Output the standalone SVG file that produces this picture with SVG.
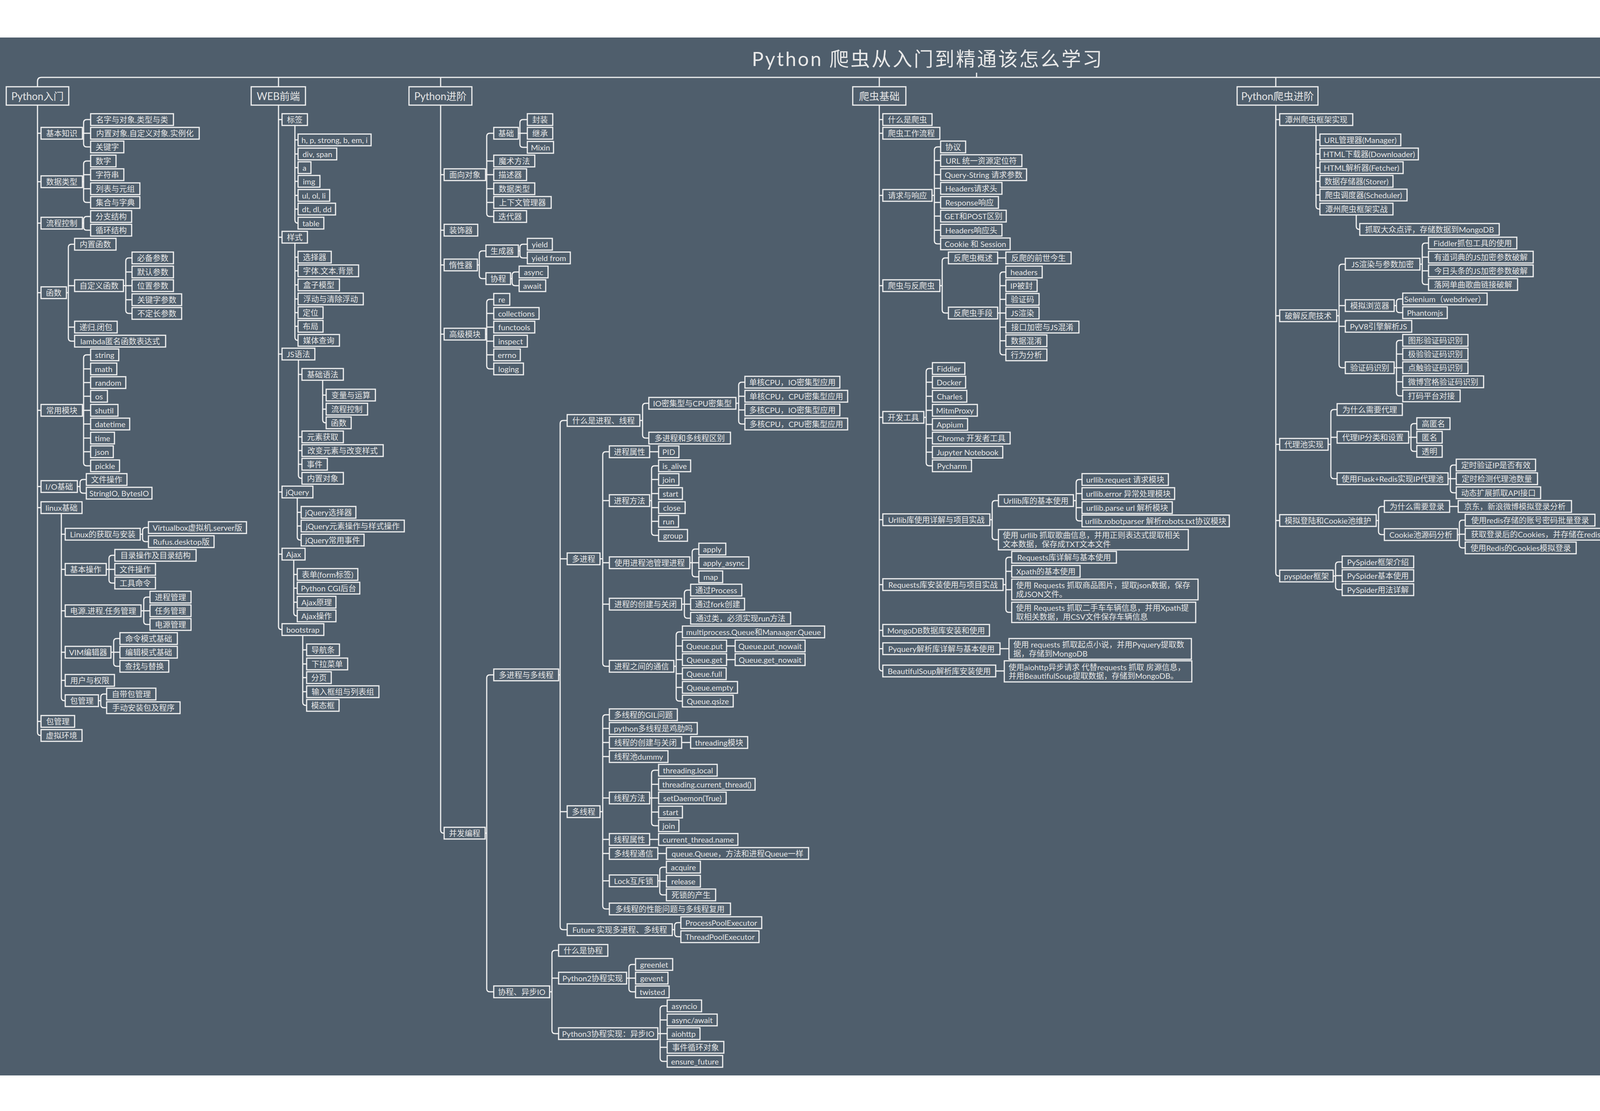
<svg xmlns="http://www.w3.org/2000/svg" width="5000" height="2843" viewBox="0 0 5000 2843">
<style>
.n rect{fill:#4f5e6c;stroke:#f0f0f0;stroke-width:3}
.n text{font-family:Lato,"Noto Sans CJK SC",sans-serif;font-size:20px;fill:#e6e6e6;text-anchor:middle;dominant-baseline:central}
.n text.l{text-anchor:start}
.h text{font-size:26px}
#links path{fill:none;stroke:#f0f0f0;stroke-width:3}
.ttl{font-family:Lato,"Noto Sans CJK SC",sans-serif;font-size:50px;fill:#e8e8e8;text-anchor:middle;dominant-baseline:central;letter-spacing:4px}
</style>
<rect x="0" y="0" width="5000" height="2843" fill="#ffffff"/>
<rect x="0" y="96" width="5000" height="2656" fill="#4f5e6c"/>
<text id="title" class="ttl" x="2375" y="150">Python 爬虫从入门到精通该怎么学习</text>
<g id="links">
<path d="M96 208Q96 198 106 198H4241Q4251 198 4251 208M2500 186V198"/>
<path d="M96 208V1874Q96 1882 104 1882H105M96 341H105M96 465H105M96 571H105M96 749H105M96 1050H105M96 1245H105M96 1299H105M96 1846H105"/>
<path d="M211 341H214M232 306H222Q214 306 214 314V368Q214 376 222 376H232M214 341H232"/>
<path d="M211 465H214M232 412H222Q214 412 214 420V510Q214 518 222 518H232M214 447H232M214 483H232"/>
<path d="M211 571H214M232 554H222Q214 554 214 562V581Q214 589 222 589H232"/>
<path d="M170 749H175M191 625H183Q175 625 175 633V865Q175 873 183 873H191M175 731H191M175 837H191"/>
<path d="M316 731H322M338 660H330Q322 660 322 668V794Q322 802 330 802H338M322 696H338M322 731H338M322 767H338"/>
<path d="M211 1050H214M232 908H222Q214 908 214 916V1184Q214 1192 222 1192H232M214 944H232M214 979H232M214 1014H232M214 1050H232M214 1085H232M214 1121H232M214 1156H232"/>
<path d="M198 1245H205M221 1227H213Q205 1227 205 1235V1254Q205 1262 213 1262H221"/>
<path d="M157 1314V1785Q157 1793 165 1793H167M157 1367H167M157 1457H167M157 1563H167M157 1669H167M157 1741H167"/>
<path d="M359 1367H365M380 1350H373Q365 1350 365 1358V1378Q365 1386 373 1386H380"/>
<path d="M272 1457H279M294 1421H287Q279 1421 279 1429V1484Q279 1492 287 1492H294M279 1457H294"/>
<path d="M361 1563H368M384 1528H376Q368 1528 368 1536V1590Q368 1598 376 1598H384M368 1563H384"/>
<path d="M284 1669H291M307 1634H299Q291 1634 291 1642V1697Q291 1705 299 1705H307M291 1669H307"/>
<path d="M252 1793H258M273 1776H266Q258 1776 258 1784V1803Q258 1811 266 1811H273"/>
<path d="M713 198V1603Q713 1611 721 1611H722M713 306H722M713 607H722M713 906H722M713 1259H722M713 1418H722"/>
<path d="M755 321V563Q755 571 763 571M755 358H763M755 394H763M755 429H763M755 464H763M755 500H763M755 535H763"/>
<path d="M755 622V863Q755 871 763 871M755 658H763M755 693H763M755 729H763M755 765H763M755 800H763M755 835H763"/>
<path d="M764 921V1216Q764 1224 772 1224H773M764 958H773M764 1118H773M764 1153H773M764 1188H773"/>
<path d="M826 973V1074Q826 1082 834 1082H835M826 1011H835M826 1047H835"/>
<path d="M761 1274V1374Q761 1382 769 1382H771M761 1311H771M761 1346H771"/>
<path d="M752 1433V1568Q752 1576 760 1576H761M752 1470H761M752 1505H761M752 1541H761"/>
<path d="M775 1626V1797Q775 1805 783 1805H785M775 1663H785M775 1699H785M775 1734H785M775 1770H785"/>
<path d="M1128 198V2124Q1128 2132 1136 2132H1137M1128 447H1137M1128 589H1137M1128 678H1137M1128 855H1137"/>
<path d="M1243 447H1246M1264 341H1254Q1246 341 1246 349V546Q1246 554 1254 554H1264M1246 412H1264M1246 447H1264M1246 483H1264M1246 518H1264"/>
<path d="M1327 341H1331M1350 306H1339Q1331 306 1331 314V369Q1331 377 1339 377H1350M1331 341H1350"/>
<path d="M1222 678H1227M1244 642H1235Q1227 642 1227 650V705Q1227 713 1235 713H1244"/>
<path d="M1327 642H1331M1350 625H1339Q1331 625 1331 633V652Q1331 660 1339 660H1350"/>
<path d="M1307 713H1311M1329 696H1319Q1311 696 1311 704V723Q1311 731 1319 731H1329"/>
<path d="M1243 855H1246M1264 766H1254Q1246 766 1246 774V936Q1246 944 1254 944H1264M1246 802H1264M1246 837H1264M1246 873H1264M1246 908H1264"/>
<path d="M1242 2132H1246M1264 1727H1254Q1246 1727 1246 1735V2530Q1246 2538 1254 2538H1264"/>
<path d="M1430 1727H1434M1452 1076H1442Q1434 1076 1434 1084V2371Q1434 2379 1442 2379H1452M1434 1430H1452M1434 2077H1452"/>
<path d="M1638 1076H1645M1661 1032H1653Q1645 1032 1645 1040V1113Q1645 1121 1653 1121H1661"/>
<path d="M1884 1032H1891M1907 978H1899Q1891 978 1891 986V1077Q1891 1085 1899 1085H1907M1891 1014H1907M1891 1049H1907"/>
<path d="M1536 1430H1543M1560 1156H1551Q1543 1156 1543 1164V1697Q1543 1705 1551 1705H1560M1543 1281H1560M1543 1440H1560M1543 1546H1560"/>
<path d="M1663 1156H1686"/>
<path d="M1663 1281H1668M1686 1192H1676Q1668 1192 1668 1200V1362Q1668 1370 1676 1370H1686M1668 1227H1686M1668 1263H1686M1668 1299H1686M1668 1334H1686"/>
<path d="M1766 1440H1772M1789 1405H1780Q1772 1405 1772 1413V1468Q1772 1476 1780 1476H1789M1772 1440H1789"/>
<path d="M1745 1546H1752M1768 1510H1760Q1752 1510 1752 1518V1574Q1752 1582 1760 1582H1768M1752 1546H1768"/>
<path d="M1725 1705H1731M1747 1617H1739Q1731 1617 1731 1625V1786Q1731 1794 1739 1794H1747M1731 1653H1747M1731 1688H1747M1731 1724H1747M1731 1759H1747"/>
<path d="M1860 1653H1882M1860 1688H1882"/>
<path d="M1536 2077H1543M1560 1829H1551Q1543 1829 1543 1837V2318Q1543 2326 1551 2326H1560M1543 1864H1560M1543 1900H1560M1543 1936H1560M1543 2042H1560M1543 2148H1560M1543 2184H1560M1543 2254H1560"/>
<path d="M1745 1900H1768"/>
<path d="M1663 2042H1668M1686 1971H1676Q1668 1971 1668 1979V2105Q1668 2113 1676 2113H1686M1668 2007H1686M1668 2042H1686M1668 2078H1686"/>
<path d="M1663 2148H1686M1684 2184H1706"/>
<path d="M1684 2254H1689M1706 2219H1697Q1689 2219 1689 2227V2282Q1689 2290 1697 2290H1706M1689 2255H1706"/>
<path d="M1721 2379H1727M1743 2361H1735Q1727 2361 1727 2369V2389Q1727 2397 1735 2397H1743"/>
<path d="M1407 2538H1413M1430 2432H1421Q1413 2432 1413 2440V2637Q1413 2645 1421 2645H1430M1413 2503H1430"/>
<path d="M1604 2503H1610M1627 2468H1618Q1610 2468 1610 2476V2530Q1610 2538 1618 2538H1627M1610 2503H1627"/>
<path d="M1684 2645H1690M1708 2574H1698Q1690 2574 1690 2582V2708Q1690 2716 1698 2716H1708M1690 2610H1708M1690 2645H1708M1690 2680H1708"/>
<path d="M2251 198V1709Q2251 1717 2259 1717H2260M2251 306H2260M2251 341H2260M2251 500H2260M2251 731H2260M2251 1068H2260M2251 1330H2260M2251 1496H2260M2251 1613H2260M2251 1660H2260"/>
<path d="M2386 500H2392M2408 376H2400Q2392 376 2392 384V616Q2392 624 2400 624H2408M2392 411H2408M2392 447H2408M2392 482H2408M2392 518H2408M2392 553H2408M2392 589H2408"/>
<path d="M2406 731H2412M2428 660H2420Q2412 660 2412 668V793Q2412 801 2420 801H2428"/>
<path d="M2554 660H2575"/>
<path d="M2554 801H2560M2575 696H2568Q2560 696 2560 704V900Q2560 908 2568 908H2575M2560 731H2575M2560 766H2575M2560 801H2575M2560 837H2575M2560 872H2575"/>
<path d="M2365 1068H2371M2387 943H2379Q2371 943 2371 951V1184Q2371 1192 2379 1192H2387M2371 978H2387M2371 1014H2387M2371 1050H2387M2371 1086H2387M2371 1121H2387M2371 1157H2387"/>
<path d="M2534 1330H2540M2556 1281H2548Q2540 1281 2540 1289V1373Q2540 1381 2548 1381H2556"/>
<path d="M2748 1281H2755M2770 1227H2763Q2755 1227 2755 1235V1325Q2755 1333 2763 1333H2770M2755 1263H2770M2755 1299H2770"/>
<path d="M2568 1496H2575M2590 1426H2583Q2575 1426 2575 1434V1559Q2575 1567 2583 1567H2590M2575 1462H2590M2575 1509H2590"/>
<path d="M2560 1660H2583M2549 1717H2571"/>
<path d="M3266 198V1466Q3266 1474 3274 1474H3276M3266 306H3276M3266 808H3276M3266 1137H3276M3266 1332H3276"/>
<path d="M3369 321V527Q3369 535 3377 535H3379M3369 358H3379M3369 394H3379M3369 429H3379M3369 464H3379M3369 499H3379"/>
<path d="M3472 550V579Q3472 587 3480 587H3481"/>
<path d="M3422 808H3428M3444 676H3436Q3428 676 3428 684V933Q3428 941 3436 941H3444M3428 782H3444M3428 835H3444"/>
<path d="M3635 676H3641M3657 622H3649Q3641 622 3641 630V720Q3641 728 3649 728H3657M3641 658H3657M3641 693H3657"/>
<path d="M3569 782H3575M3591 765H3583Q3575 765 3575 773V792Q3575 800 3583 800H3591"/>
<path d="M3569 941H3575M3591 871H3583Q3575 871 3575 879V1005Q3575 1013 3583 1013H3591M3575 906H3591M3575 941H3591M3575 977H3591"/>
<path d="M3400 1137H3407M3423 1048H3415Q3407 1048 3407 1056V1217Q3407 1225 3415 1225H3423M3407 1119H3423"/>
<path d="M3606 1119H3612M3627 1084H3620Q3612 1084 3612 1092V1147Q3612 1155 3620 1155H3627M3612 1119H3627"/>
<path d="M3707 1225H3713M3728 1190H3721Q3713 1190 3713 1198V1253Q3713 1261 3721 1261H3728M3713 1225H3728"/>
<path d="M3523 1332H3529M3544 1296H3537Q3529 1296 3529 1304V1360Q3529 1368 3537 1368H3544"/>
<path d="M3711 1296H3733"/>
<path d="M3731 1368H3736M3751 1331H3744Q3736 1331 3736 1339V1394Q3736 1402 3744 1402H3751M3736 1367H3751"/>
<path d="M3413 1474H3419M3436 1438H3427Q3419 1438 3419 1446V1501Q3419 1509 3427 1509H3436M3419 1473H3436"/>
<path d="M4251 208V1181Q4251 1189 4259 1189H4260M4251 385H4260M4251 729H4260M4251 1012H4260"/>
<path d="M4381 385H4386M4403 305H4394Q4386 305 4386 313V456Q4386 464 4394 464H4403M4386 393H4403M4386 428H4403"/>
<path d="M4477 320V349Q4477 357 4485 357H4487"/>
<path d="M4483 479V508Q4483 516 4491 516H4493"/>
<path d="M4384 729H4390M4406 552H4398Q4390 552 4390 560V898Q4390 906 4398 906H4406M4390 587H4406M4390 622H4406M4390 657H4406M4390 693H4406M4390 728H4406M4390 764H4406M4390 800H4406M4390 835H4406M4390 871H4406"/>
<path d="M4427 1012H4433M4449 941H4441Q4433 941 4433 949V1075Q4433 1083 4441 1083H4449M4433 977H4449M4433 1012H4449M4433 1047H4449"/>
<path d="M4427 1189H4433M4449 1118H4441Q4433 1118 4433 1126V1252Q4433 1260 4441 1260H4449M4433 1154H4449M4433 1189H4449M4433 1225H4449"/>
</g>
<g id="nodes">
<g id="n0" class="n h"><rect x="16" y="222" width="160" height="47"/><text x="96" y="246">Python入门</text></g>
<g id="n1" class="n"><rect x="105" y="326" width="106" height="30"/><text x="158" y="341">基本知识</text></g>
<g id="n2" class="n"><rect x="232" y="291" width="212" height="30"/><text x="338" y="306">名字与对象.类型与类</text></g>
<g id="n3" class="n"><rect x="232" y="326" width="278" height="30"/><text x="371" y="341">内置对象.自定义对象.实例化</text></g>
<g id="n4" class="n"><rect x="232" y="361" width="85" height="30"/><text x="274.5" y="376">关键字</text></g>
<g id="n5" class="n"><rect x="105" y="450" width="106" height="30"/><text x="158" y="465">数据类型</text></g>
<g id="n6" class="n"><rect x="232" y="397" width="65" height="30"/><text x="264.5" y="412">数字</text></g>
<g id="n7" class="n"><rect x="232" y="432" width="85" height="30"/><text x="274.5" y="447">字符串</text></g>
<g id="n8" class="n"><rect x="232" y="468" width="126" height="30"/><text x="295" y="483">列表与元组</text></g>
<g id="n9" class="n"><rect x="232" y="503" width="126" height="30"/><text x="295" y="518">集合与字典</text></g>
<g id="n10" class="n"><rect x="105" y="556" width="106" height="30"/><text x="158" y="571">流程控制</text></g>
<g id="n11" class="n"><rect x="232" y="539" width="105" height="30"/><text x="284.5" y="554">分支结构</text></g>
<g id="n12" class="n"><rect x="232" y="574" width="105" height="30"/><text x="284.5" y="589">循环结构</text></g>
<g id="n13" class="n"><rect x="105" y="734" width="65" height="30"/><text x="137.5" y="749">函数</text></g>
<g id="n14" class="n"><rect x="191" y="610" width="106" height="30"/><text x="244" y="625">内置函数</text></g>
<g id="n15" class="n"><rect x="191" y="716" width="125" height="30"/><text x="253.5" y="731">自定义函数</text></g>
<g id="n16" class="n"><rect x="338" y="645" width="106" height="30"/><text x="391" y="660">必备参数</text></g>
<g id="n17" class="n"><rect x="338" y="681" width="106" height="30"/><text x="391" y="696">默认参数</text></g>
<g id="n18" class="n"><rect x="338" y="716" width="106" height="30"/><text x="391" y="731">位置参数</text></g>
<g id="n19" class="n"><rect x="338" y="752" width="127" height="30"/><text x="401.5" y="767">关键字参数</text></g>
<g id="n20" class="n"><rect x="338" y="787" width="127" height="30"/><text x="401.5" y="802">不定长参数</text></g>
<g id="n21" class="n"><rect x="191" y="822" width="109" height="30"/><text x="245.5" y="837">递归.闭包</text></g>
<g id="n22" class="n"><rect x="191" y="858" width="233" height="30"/><text x="307.5" y="873">lambda匿名函数表达式</text></g>
<g id="n23" class="n"><rect x="105" y="1035" width="106" height="30"/><text x="158" y="1050">常用模块</text></g>
<g id="n24" class="n"><rect x="232" y="893" width="72" height="30"/><text x="268" y="908">string</text></g>
<g id="n25" class="n"><rect x="232" y="929" width="67" height="30"/><text x="265.5" y="944">math</text></g>
<g id="n26" class="n"><rect x="232" y="964" width="90" height="30"/><text x="277" y="979">random</text></g>
<g id="n27" class="n"><rect x="232" y="999" width="43" height="30"/><text x="253.5" y="1014">os</text></g>
<g id="n28" class="n"><rect x="232" y="1035" width="70" height="30"/><text x="267" y="1050">shutil</text></g>
<g id="n29" class="n"><rect x="232" y="1070" width="100" height="30"/><text x="282" y="1085">datetime</text></g>
<g id="n30" class="n"><rect x="232" y="1106" width="61" height="30"/><text x="262.5" y="1121">time</text></g>
<g id="n31" class="n"><rect x="232" y="1141" width="58" height="30"/><text x="261" y="1156">json</text></g>
<g id="n32" class="n"><rect x="232" y="1177" width="74" height="30"/><text x="269" y="1192">pickle</text></g>
<g id="n33" class="n"><rect x="105" y="1230" width="93" height="30"/><text x="151.5" y="1245">I/O基础</text></g>
<g id="n34" class="n"><rect x="221" y="1212" width="104" height="30"/><text x="273" y="1227">文件操作</text></g>
<g id="n35" class="n"><rect x="221" y="1247" width="168" height="30"/><text x="305" y="1262">StringIO, BytesIO</text></g>
<g id="n36" class="n"><rect x="105" y="1284" width="105" height="30"/><text x="157.5" y="1299">linux基础</text></g>
<g id="n37" class="n"><rect x="167" y="1352" width="192" height="30"/><text x="263" y="1367">Linux的获取与安装</text></g>
<g id="n38" class="n"><rect x="380" y="1335" width="251" height="30"/><text x="505.5" y="1350">Virtualbox虚拟机.server版</text></g>
<g id="n39" class="n"><rect x="380" y="1371" width="168" height="30"/><text x="464" y="1386">Rufus.desktop版</text></g>
<g id="n40" class="n"><rect x="167" y="1442" width="105" height="30"/><text x="219.5" y="1457">基本操作</text></g>
<g id="n41" class="n"><rect x="294" y="1406" width="208" height="30"/><text x="398" y="1421">目录操作及目录结构</text></g>
<g id="n42" class="n"><rect x="294" y="1442" width="104" height="30"/><text x="346" y="1457">文件操作</text></g>
<g id="n43" class="n"><rect x="294" y="1477" width="104" height="30"/><text x="346" y="1492">工具命令</text></g>
<g id="n44" class="n"><rect x="167" y="1548" width="194" height="30"/><text x="264" y="1563">电源.进程.任务管理</text></g>
<g id="n45" class="n"><rect x="384" y="1513" width="105" height="30"/><text x="436.5" y="1528">进程管理</text></g>
<g id="n46" class="n"><rect x="384" y="1548" width="105" height="30"/><text x="436.5" y="1563">任务管理</text></g>
<g id="n47" class="n"><rect x="384" y="1583" width="105" height="30"/><text x="436.5" y="1598">电源管理</text></g>
<g id="n48" class="n"><rect x="167" y="1654" width="117" height="30"/><text x="225.5" y="1669">VIM编辑器</text></g>
<g id="n49" class="n"><rect x="307" y="1619" width="147" height="30"/><text x="380.5" y="1634">命令模式基础</text></g>
<g id="n50" class="n"><rect x="307" y="1654" width="147" height="30"/><text x="380.5" y="1669">编辑模式基础</text></g>
<g id="n51" class="n"><rect x="307" y="1690" width="125" height="30"/><text x="369.5" y="1705">查找与替换</text></g>
<g id="n52" class="n"><rect x="167" y="1726" width="126" height="30"/><text x="230" y="1741">用户与权限</text></g>
<g id="n53" class="n"><rect x="167" y="1778" width="85" height="30"/><text x="209.5" y="1793">包管理</text></g>
<g id="n54" class="n"><rect x="273" y="1761" width="126" height="30"/><text x="336" y="1776">自带包管理</text></g>
<g id="n55" class="n"><rect x="273" y="1796" width="188" height="30"/><text x="367" y="1811">手动安装包及程序</text></g>
<g id="n56" class="n"><rect x="105" y="1831" width="86" height="30"/><text x="148" y="1846">包管理</text></g>
<g id="n57" class="n"><rect x="105" y="1867" width="105" height="30"/><text x="157.5" y="1882">虚拟环境</text></g>
<g id="n58" class="n h"><rect x="643" y="222" width="139" height="47"/><text x="712.5" y="246">WEB前端</text></g>
<g id="n59" class="n"><rect x="722" y="291" width="65" height="30"/><text x="754.5" y="306">标签</text></g>
<g id="n60" class="n"><rect x="763" y="343" width="187" height="30"/><text x="856.5" y="358">h, p, strong, b, em, i</text></g>
<g id="n61" class="n"><rect x="763" y="379" width="99" height="30"/><text x="812.5" y="394">div, span</text></g>
<g id="n62" class="n"><rect x="763" y="414" width="33" height="30"/><text x="779.5" y="429">a</text></g>
<g id="n63" class="n"><rect x="763" y="449" width="56" height="30"/><text x="791" y="464">img</text></g>
<g id="n64" class="n"><rect x="763" y="485" width="81" height="30"/><text x="803.5" y="500">ul, ol, li</text></g>
<g id="n65" class="n"><rect x="763" y="520" width="96" height="30"/><text x="811" y="535">dt, dl, dd</text></g>
<g id="n66" class="n"><rect x="763" y="556" width="66" height="30"/><text x="796" y="571">table</text></g>
<g id="n67" class="n"><rect x="722" y="592" width="65" height="30"/><text x="754.5" y="607">样式</text></g>
<g id="n68" class="n"><rect x="763" y="643" width="85" height="30"/><text x="805.5" y="658">选择器</text></g>
<g id="n69" class="n"><rect x="763" y="678" width="155" height="30"/><text x="840.5" y="693">字体.文本.背景</text></g>
<g id="n70" class="n"><rect x="763" y="714" width="106" height="30"/><text x="816" y="729">盒子模型</text></g>
<g id="n71" class="n"><rect x="763" y="750" width="167" height="30"/><text x="846.5" y="765">浮动与清除浮动</text></g>
<g id="n72" class="n"><rect x="763" y="785" width="64" height="30"/><text x="795" y="800">定位</text></g>
<g id="n73" class="n"><rect x="763" y="820" width="64" height="30"/><text x="795" y="835">布局</text></g>
<g id="n74" class="n"><rect x="763" y="856" width="106" height="30"/><text x="816" y="871">媒体查询</text></g>
<g id="n75" class="n"><rect x="722" y="891" width="84" height="30"/><text x="764" y="906">JS语法</text></g>
<g id="n76" class="n"><rect x="773" y="943" width="106" height="30"/><text x="826" y="958">基础语法</text></g>
<g id="n77" class="n"><rect x="835" y="996" width="126" height="30"/><text x="898" y="1011">变量与运算</text></g>
<g id="n78" class="n"><rect x="835" y="1032" width="106" height="30"/><text x="888" y="1047">流程控制</text></g>
<g id="n79" class="n"><rect x="835" y="1067" width="64" height="30"/><text x="867" y="1082">函数</text></g>
<g id="n80" class="n"><rect x="773" y="1103" width="106" height="30"/><text x="826" y="1118">元素获取</text></g>
<g id="n81" class="n"><rect x="773" y="1138" width="208" height="30"/><text x="877" y="1153">改变元素与改变样式</text></g>
<g id="n82" class="n"><rect x="773" y="1173" width="65" height="30"/><text x="805.5" y="1188">事件</text></g>
<g id="n83" class="n"><rect x="773" y="1209" width="106" height="30"/><text x="826" y="1224">内置对象</text></g>
<g id="n84" class="n"><rect x="722" y="1244" width="79" height="30"/><text x="761.5" y="1259">jQuery</text></g>
<g id="n85" class="n"><rect x="771" y="1296" width="140" height="30"/><text x="841" y="1311">jQuery选择器</text></g>
<g id="n86" class="n"><rect x="771" y="1331" width="264" height="30"/><text x="903" y="1346">jQuery元素操作与样式操作</text></g>
<g id="n87" class="n"><rect x="771" y="1367" width="161" height="30"/><text x="851.5" y="1382">jQuery常用事件</text></g>
<g id="n88" class="n"><rect x="722" y="1403" width="59" height="30"/><text x="751.5" y="1418">Ajax</text></g>
<g id="n89" class="n"><rect x="761" y="1455" width="155" height="30"/><text x="838.5" y="1470">表单(form标签)</text></g>
<g id="n90" class="n"><rect x="761" y="1490" width="160" height="30"/><text x="841" y="1505">Python CGI后台</text></g>
<g id="n91" class="n"><rect x="761" y="1526" width="99" height="30"/><text x="810.5" y="1541">Ajax原理</text></g>
<g id="n92" class="n"><rect x="761" y="1561" width="99" height="30"/><text x="810.5" y="1576">Ajax操作</text></g>
<g id="n93" class="n"><rect x="722" y="1596" width="107" height="30"/><text x="775.5" y="1611">bootstrap</text></g>
<g id="n94" class="n"><rect x="785" y="1648" width="84" height="30"/><text x="827" y="1663">导航条</text></g>
<g id="n95" class="n"><rect x="785" y="1684" width="105" height="30"/><text x="837.5" y="1699">下拉菜单</text></g>
<g id="n96" class="n"><rect x="785" y="1719" width="63" height="30"/><text x="816.5" y="1734">分页</text></g>
<g id="n97" class="n"><rect x="785" y="1755" width="185" height="30"/><text x="877.5" y="1770">输入框组与列表组</text></g>
<g id="n98" class="n"><rect x="785" y="1790" width="83" height="30"/><text x="826.5" y="1805">模态框</text></g>
<g id="n99" class="n h"><rect x="1047" y="222" width="161" height="47"/><text x="1127.5" y="246">Python进阶</text></g>
<g id="n100" class="n"><rect x="1137" y="432" width="106" height="30"/><text x="1190" y="447">面向对象</text></g>
<g id="n101" class="n"><rect x="1264" y="326" width="63" height="30"/><text x="1295.5" y="341">基础</text></g>
<g id="n102" class="n"><rect x="1350" y="291" width="65" height="30"/><text x="1382.5" y="306">封装</text></g>
<g id="n103" class="n"><rect x="1350" y="326" width="65" height="30"/><text x="1382.5" y="341">继承</text></g>
<g id="n104" class="n"><rect x="1350" y="362" width="67" height="30"/><text x="1383.5" y="377">Mixin</text></g>
<g id="n105" class="n"><rect x="1264" y="397" width="105" height="30"/><text x="1316.5" y="412">魔术方法</text></g>
<g id="n106" class="n"><rect x="1264" y="432" width="84" height="30"/><text x="1306" y="447">描述器</text></g>
<g id="n107" class="n"><rect x="1264" y="468" width="105" height="30"/><text x="1316.5" y="483">数据类型</text></g>
<g id="n108" class="n"><rect x="1264" y="503" width="147" height="30"/><text x="1337.5" y="518">上下文管理器</text></g>
<g id="n109" class="n"><rect x="1264" y="539" width="84" height="30"/><text x="1306" y="554">迭代器</text></g>
<g id="n110" class="n"><rect x="1137" y="574" width="86" height="30"/><text x="1180" y="589">装饰器</text></g>
<g id="n111" class="n"><rect x="1137" y="663" width="85" height="30"/><text x="1179.5" y="678">惰性器</text></g>
<g id="n112" class="n"><rect x="1244" y="627" width="83" height="30"/><text x="1285.5" y="642">生成器</text></g>
<g id="n113" class="n"><rect x="1350" y="610" width="64" height="30"/><text x="1382" y="625">yield</text></g>
<g id="n114" class="n"><rect x="1350" y="645" width="110" height="30"/><text x="1405" y="660">yield from</text></g>
<g id="n115" class="n"><rect x="1244" y="698" width="63" height="30"/><text x="1275.5" y="713">协程</text></g>
<g id="n116" class="n"><rect x="1329" y="681" width="74" height="30"/><text x="1366" y="696">async</text></g>
<g id="n117" class="n"><rect x="1329" y="716" width="68" height="30"/><text x="1363" y="731">await</text></g>
<g id="n118" class="n"><rect x="1137" y="840" width="106" height="30"/><text x="1190" y="855">高级模块</text></g>
<g id="n119" class="n"><rect x="1264" y="751" width="41" height="30"/><text x="1284.5" y="766">re</text></g>
<g id="n120" class="n"><rect x="1264" y="787" width="116" height="30"/><text x="1322" y="802">collections</text></g>
<g id="n121" class="n"><rect x="1264" y="822" width="105" height="30"/><text x="1316.5" y="837">functools</text></g>
<g id="n122" class="n"><rect x="1264" y="858" width="86" height="30"/><text x="1307" y="873">inspect</text></g>
<g id="n123" class="n"><rect x="1264" y="893" width="68" height="30"/><text x="1298" y="908">errno</text></g>
<g id="n124" class="n"><rect x="1264" y="929" width="76" height="30"/><text x="1302" y="944">loging</text></g>
<g id="n125" class="n"><rect x="1137" y="2117" width="105" height="30"/><text x="1189.5" y="2132">并发编程</text></g>
<g id="n126" class="n"><rect x="1264" y="1712" width="166" height="30"/><text x="1347" y="1727">多进程与多线程</text></g>
<g id="n127" class="n"><rect x="1452" y="1061" width="186" height="30"/><text x="1545" y="1076">什么是进程、线程</text></g>
<g id="n128" class="n"><rect x="1661" y="1017" width="223" height="30"/><text x="1772.5" y="1032">IO密集型与CPU密集型</text></g>
<g id="n129" class="n"><rect x="1907" y="963" width="243" height="30"/><text x="2028.5" y="978">单核CPU，IO密集型应用</text></g>
<g id="n130" class="n"><rect x="1907" y="999" width="263" height="30"/><text x="2038.5" y="1014">单核CPU，CPU密集型应用</text></g>
<g id="n131" class="n"><rect x="1907" y="1034" width="243" height="30"/><text x="2028.5" y="1049">多核CPU，IO密集型应用</text></g>
<g id="n132" class="n"><rect x="1907" y="1070" width="263" height="30"/><text x="2038.5" y="1085">多核CPU，CPU密集型应用</text></g>
<g id="n133" class="n"><rect x="1661" y="1106" width="209" height="30"/><text x="1765.5" y="1121">多进程和多线程区别</text></g>
<g id="n134" class="n"><rect x="1452" y="1415" width="84" height="30"/><text x="1494" y="1430">多进程</text></g>
<g id="n135" class="n"><rect x="1560" y="1141" width="103" height="30"/><text x="1611.5" y="1156">进程属性</text></g>
<g id="n136" class="n"><rect x="1686" y="1141" width="52" height="30"/><text x="1712" y="1156">PID</text></g>
<g id="n137" class="n"><rect x="1560" y="1266" width="103" height="30"/><text x="1611.5" y="1281">进程方法</text></g>
<g id="n138" class="n"><rect x="1686" y="1177" width="82" height="30"/><text x="1727" y="1192">is_alive</text></g>
<g id="n139" class="n"><rect x="1686" y="1212" width="52" height="30"/><text x="1712" y="1227">join</text></g>
<g id="n140" class="n"><rect x="1686" y="1248" width="61" height="30"/><text x="1716.5" y="1263">start</text></g>
<g id="n141" class="n"><rect x="1686" y="1284" width="68" height="30"/><text x="1720" y="1299">close</text></g>
<g id="n142" class="n"><rect x="1686" y="1319" width="51" height="30"/><text x="1711.5" y="1334">run</text></g>
<g id="n143" class="n"><rect x="1686" y="1355" width="74" height="30"/><text x="1723" y="1370">group</text></g>
<g id="n144" class="n"><rect x="1560" y="1425" width="206" height="30"/><text x="1663" y="1440">使用进程池管理进程</text></g>
<g id="n145" class="n"><rect x="1789" y="1390" width="69" height="30"/><text x="1823.5" y="1405">apply</text></g>
<g id="n146" class="n"><rect x="1789" y="1425" width="128" height="30"/><text x="1853" y="1440">apply_async</text></g>
<g id="n147" class="n"><rect x="1789" y="1461" width="61" height="30"/><text x="1819.5" y="1476">map</text></g>
<g id="n148" class="n"><rect x="1560" y="1531" width="185" height="30"/><text x="1652.5" y="1546">进程的创建与关闭</text></g>
<g id="n149" class="n"><rect x="1768" y="1495" width="131" height="30"/><text x="1833.5" y="1510">通过Process</text></g>
<g id="n150" class="n"><rect x="1768" y="1531" width="138" height="30"/><text x="1837" y="1546">通过fork创建</text></g>
<g id="n151" class="n"><rect x="1768" y="1567" width="256" height="30"/><text x="1896" y="1582">通过类，必须实现run方法</text></g>
<g id="n152" class="n"><rect x="1560" y="1690" width="165" height="30"/><text x="1642.5" y="1705">进程之间的通信</text></g>
<g id="n153" class="n"><rect x="1747" y="1602" width="364" height="30"/><text x="1929" y="1617">multiprocess.Queue和Manaager.Queue</text></g>
<g id="n154" class="n"><rect x="1747" y="1638" width="113" height="30"/><text x="1803.5" y="1653">Queue.put</text></g>
<g id="n155" class="n"><rect x="1882" y="1638" width="179" height="30"/><text x="1971.5" y="1653">Queue.put_nowait</text></g>
<g id="n156" class="n"><rect x="1747" y="1673" width="113" height="30"/><text x="1803.5" y="1688">Queue.get</text></g>
<g id="n157" class="n"><rect x="1882" y="1673" width="179" height="30"/><text x="1971.5" y="1688">Queue.get_nowait</text></g>
<g id="n158" class="n"><rect x="1747" y="1709" width="112" height="30"/><text x="1803" y="1724">Queue.full</text></g>
<g id="n159" class="n"><rect x="1747" y="1744" width="141" height="30"/><text x="1817.5" y="1759">Queue.empty</text></g>
<g id="n160" class="n"><rect x="1747" y="1779" width="130" height="30"/><text x="1812" y="1794">Queue.qsize</text></g>
<g id="n161" class="n"><rect x="1452" y="2062" width="84" height="30"/><text x="1494" y="2077">多线程</text></g>
<g id="n162" class="n"><rect x="1560" y="1814" width="174" height="30"/><text x="1647" y="1829">多线程的GIL问题</text></g>
<g id="n163" class="n"><rect x="1560" y="1849" width="225" height="30"/><text x="1672.5" y="1864">python多线程是鸡肋吗</text></g>
<g id="n164" class="n"><rect x="1560" y="1885" width="185" height="30"/><text x="1652.5" y="1900">线程的创建与关闭</text></g>
<g id="n165" class="n"><rect x="1768" y="1885" width="146" height="30"/><text x="1841" y="1900">threading模块</text></g>
<g id="n166" class="n"><rect x="1560" y="1921" width="150" height="30"/><text x="1635" y="1936">线程池dummy</text></g>
<g id="n167" class="n"><rect x="1560" y="2027" width="103" height="30"/><text x="1611.5" y="2042">线程方法</text></g>
<g id="n168" class="n"><rect x="1686" y="1956" width="150" height="30"/><text x="1761" y="1971">threading.local</text></g>
<g id="n169" class="n"><rect x="1686" y="1992" width="247" height="30"/><text x="1809.5" y="2007">threading.current_thread()</text></g>
<g id="n170" class="n"><rect x="1686" y="2027" width="173" height="30"/><text x="1772.5" y="2042">setDaemon(True)</text></g>
<g id="n171" class="n"><rect x="1686" y="2063" width="61" height="30"/><text x="1716.5" y="2078">start</text></g>
<g id="n172" class="n"><rect x="1686" y="2098" width="52" height="30"/><text x="1712" y="2113">join</text></g>
<g id="n173" class="n"><rect x="1560" y="2133" width="103" height="30"/><text x="1611.5" y="2148">线程属性</text></g>
<g id="n174" class="n"><rect x="1686" y="2133" width="203" height="30"/><text x="1787.5" y="2148">current_thread.name</text></g>
<g id="n175" class="n"><rect x="1560" y="2169" width="124" height="30"/><text x="1622" y="2184">多线程通信</text></g>
<g id="n176" class="n"><rect x="1706" y="2169" width="364" height="30"/><text x="1888" y="2184">queue.Queue，方法和进程Queue一样</text></g>
<g id="n177" class="n"><rect x="1560" y="2239" width="124" height="30"/><text x="1622" y="2254">Lock互斥锁</text></g>
<g id="n178" class="n"><rect x="1706" y="2204" width="87" height="30"/><text x="1749.5" y="2219">acquire</text></g>
<g id="n179" class="n"><rect x="1706" y="2240" width="87" height="30"/><text x="1749.5" y="2255">release</text></g>
<g id="n180" class="n"><rect x="1706" y="2275" width="126" height="30"/><text x="1769" y="2290">死锁的产生</text></g>
<g id="n181" class="n"><rect x="1560" y="2311" width="310" height="30"/><text x="1715" y="2326">多线程的性能问题与多线程复用</text></g>
<g id="n182" class="n"><rect x="1452" y="2364" width="269" height="30"/><text x="1586.5" y="2379">Future 实现多进程、多线程</text></g>
<g id="n183" class="n"><rect x="1743" y="2346" width="207" height="30"/><text x="1846.5" y="2361">ProcessPoolExecutor</text></g>
<g id="n184" class="n"><rect x="1743" y="2382" width="200" height="30"/><text x="1843" y="2397">ThreadPoolExecutor</text></g>
<g id="n185" class="n"><rect x="1264" y="2523" width="143" height="30"/><text x="1335.5" y="2538">协程、异步IO</text></g>
<g id="n186" class="n"><rect x="1430" y="2417" width="126" height="30"/><text x="1493" y="2432">什么是协程</text></g>
<g id="n187" class="n"><rect x="1430" y="2488" width="174" height="30"/><text x="1517" y="2503">Python2协程实现</text></g>
<g id="n188" class="n"><rect x="1627" y="2453" width="95" height="30"/><text x="1674.5" y="2468">greenlet</text></g>
<g id="n189" class="n"><rect x="1627" y="2488" width="83" height="30"/><text x="1668.5" y="2503">gevent</text></g>
<g id="n190" class="n"><rect x="1627" y="2523" width="86" height="30"/><text x="1670" y="2538">twisted</text></g>
<g id="n191" class="n"><rect x="1430" y="2630" width="254" height="30"/><text x="1557" y="2645">Python3协程实现：异步IO</text></g>
<g id="n192" class="n"><rect x="1708" y="2559" width="88" height="30"/><text x="1752" y="2574">asyncio</text></g>
<g id="n193" class="n"><rect x="1708" y="2595" width="128" height="30"/><text x="1772" y="2610">async/await</text></g>
<g id="n194" class="n"><rect x="1708" y="2630" width="84" height="30"/><text x="1750" y="2645">aiohttp</text></g>
<g id="n195" class="n"><rect x="1708" y="2665" width="145" height="30"/><text x="1780.5" y="2680">事件循环对象</text></g>
<g id="n196" class="n"><rect x="1708" y="2701" width="142" height="30"/><text x="1779" y="2716">ensure_future</text></g>
<g id="n197" class="n h"><rect x="2183" y="222" width="136" height="47"/><text x="2251" y="246">爬虫基础</text></g>
<g id="n198" class="n"><rect x="2260" y="291" width="126" height="30"/><text x="2323" y="306">什么是爬虫</text></g>
<g id="n199" class="n"><rect x="2260" y="326" width="146" height="30"/><text x="2333" y="341">爬虫工作流程</text></g>
<g id="n200" class="n"><rect x="2260" y="485" width="126" height="30"/><text x="2323" y="500">请求与响应</text></g>
<g id="n201" class="n"><rect x="2408" y="361" width="64" height="30"/><text x="2440" y="376">协议</text></g>
<g id="n202" class="n"><rect x="2408" y="396" width="208" height="30"/><text x="2512" y="411">URL 统一资源定位符</text></g>
<g id="n203" class="n"><rect x="2408" y="432" width="220" height="30"/><text x="2518" y="447">Query-String 请求参数</text></g>
<g id="n204" class="n"><rect x="2408" y="467" width="157" height="30"/><text x="2486.5" y="482">Headers请求头</text></g>
<g id="n205" class="n"><rect x="2408" y="503" width="148" height="30"/><text x="2482" y="518">Response响应</text></g>
<g id="n206" class="n"><rect x="2408" y="538" width="168" height="30"/><text x="2492" y="553">GET和POST区别</text></g>
<g id="n207" class="n"><rect x="2408" y="574" width="157" height="30"/><text x="2486.5" y="589">Headers响应头</text></g>
<g id="n208" class="n"><rect x="2408" y="609" width="178" height="30"/><text x="2497" y="624">Cookie 和 Session</text></g>
<g id="n209" class="n"><rect x="2260" y="716" width="146" height="30"/><text x="2333" y="731">爬虫与反爬虫</text></g>
<g id="n210" class="n"><rect x="2428" y="645" width="126" height="30"/><text x="2491" y="660">反爬虫概述</text></g>
<g id="n211" class="n"><rect x="2575" y="645" width="167" height="30"/><text x="2658.5" y="660">反爬的前世今生</text></g>
<g id="n212" class="n"><rect x="2428" y="786" width="126" height="30"/><text x="2491" y="801">反爬虫手段</text></g>
<g id="n213" class="n"><rect x="2575" y="681" width="93" height="30"/><text x="2621.5" y="696">headers</text></g>
<g id="n214" class="n"><rect x="2575" y="716" width="80" height="30"/><text x="2615" y="731">IP被封</text></g>
<g id="n215" class="n"><rect x="2575" y="751" width="85" height="30"/><text x="2617.5" y="766">验证码</text></g>
<g id="n216" class="n"><rect x="2575" y="786" width="85" height="30"/><text x="2617.5" y="801">JS渲染</text></g>
<g id="n217" class="n"><rect x="2575" y="822" width="187" height="30"/><text x="2668.5" y="837">接口加密与JS混淆</text></g>
<g id="n218" class="n"><rect x="2575" y="857" width="105" height="30"/><text x="2627.5" y="872">数据混淆</text></g>
<g id="n219" class="n"><rect x="2575" y="893" width="105" height="30"/><text x="2627.5" y="908">行为分析</text></g>
<g id="n220" class="n"><rect x="2260" y="1053" width="105" height="30"/><text x="2312.5" y="1068">开发工具</text></g>
<g id="n221" class="n"><rect x="2387" y="928" width="83" height="30"/><text x="2428.5" y="943">Fiddler</text></g>
<g id="n222" class="n"><rect x="2387" y="963" width="85" height="30"/><text x="2429.5" y="978">Docker</text></g>
<g id="n223" class="n"><rect x="2387" y="999" width="88" height="30"/><text x="2431" y="1014">Charles</text></g>
<g id="n224" class="n"><rect x="2387" y="1035" width="115" height="30"/><text x="2444.5" y="1050">MitmProxy</text></g>
<g id="n225" class="n"><rect x="2387" y="1071" width="90" height="30"/><text x="2432" y="1086">Appium</text></g>
<g id="n226" class="n"><rect x="2387" y="1106" width="199" height="30"/><text x="2486.5" y="1121">Chrome 开发者工具</text></g>
<g id="n227" class="n"><rect x="2387" y="1142" width="180" height="30"/><text x="2477" y="1157">Jupyter Notebook</text></g>
<g id="n228" class="n"><rect x="2387" y="1177" width="100" height="30"/><text x="2437" y="1192">Pycharm</text></g>
<g id="n229" class="n"><rect x="2260" y="1315" width="274" height="30"/><text x="2397" y="1330">Urllib库使用详解与项目实战</text></g>
<g id="n230" class="n"><rect x="2556" y="1266" width="192" height="30"/><text x="2652" y="1281">Urllib库的基本使用</text></g>
<g id="n231" class="n"><rect x="2770" y="1212" width="221" height="30"/><text x="2880.5" y="1227">urllib.request 请求模块</text></g>
<g id="n232" class="n"><rect x="2770" y="1248" width="237" height="30"/><text x="2888.5" y="1263">urllib.error 异常处理模块</text></g>
<g id="n233" class="n"><rect x="2770" y="1284" width="231" height="30"/><text x="2885.5" y="1299">urllib.parse url 解析模块</text></g>
<g id="n234" class="n"><rect x="2770" y="1318" width="377" height="30"/><text x="2958.5" y="1333">urllib.robotparser 解析robots.txt协议模块</text></g>
<g id="n235" class="n"><rect x="2556" y="1355" width="486" height="52"/><text class="l" x="2567" y="1369">使用 urllib 抓取歌曲信息，并用正则表达式提取相关</text><text class="l" x="2567" y="1392">文本数据，保存成TXT文本文件</text></g>
<g id="n236" class="n"><rect x="2260" y="1481" width="308" height="30"/><text x="2414" y="1496">Requests库安装使用与项目实战</text></g>
<g id="n237" class="n"><rect x="2590" y="1411" width="268" height="30"/><text x="2724" y="1426">Requests库详解与基本使用</text></g>
<g id="n238" class="n"><rect x="2590" y="1447" width="175" height="30"/><text x="2677.5" y="1462">Xpath的基本使用</text></g>
<g id="n239" class="n"><rect x="2590" y="1482" width="477" height="53"/><text class="l" x="2601" y="1497">使用 Requests 抓取商品图片，提取json数据，保存</text><text class="l" x="2601" y="1520">成JSON文件。</text></g>
<g id="n240" class="n"><rect x="2590" y="1541" width="471" height="52"/><text class="l" x="2601" y="1555">使用 Requests 抓取二手车车辆信息，并用Xpath提</text><text class="l" x="2601" y="1578">取相关数据，用CSV文件保存车辆信息</text></g>
<g id="n241" class="n"><rect x="2260" y="1598" width="273" height="30"/><text x="2396.5" y="1613">MongoDB数据库安装和使用</text></g>
<g id="n242" class="n"><rect x="2260" y="1645" width="300" height="30"/><text x="2410" y="1660">Pyquery解析库详解与基本使用</text></g>
<g id="n243" class="n"><rect x="2583" y="1634" width="467" height="53"/><text class="l" x="2594" y="1649">使用 requests 抓取起点小说，并用Pyquery提取数</text><text class="l" x="2594" y="1672">据，存储到MongoDB</text></g>
<g id="n244" class="n"><rect x="2260" y="1702" width="289" height="30"/><text x="2404.5" y="1717">BeautifulSoup解析库安装使用</text></g>
<g id="n245" class="n"><rect x="2571" y="1691" width="480" height="54"/><text class="l" x="2582" y="1707">使用aiohttp异步请求 代替requests 抓取 房源信息，</text><text class="l" x="2582" y="1729">并用BeautifulSoup提取数据，存储到MongoDB。</text></g>
<g id="n246" class="n h"><rect x="3167" y="222" width="207" height="47"/><text x="3270.5" y="246">Python爬虫进阶</text></g>
<g id="n247" class="n"><rect x="3276" y="291" width="187" height="30"/><text x="3369.5" y="306">潭州爬虫框架实现</text></g>
<g id="n248" class="n"><rect x="3379" y="343" width="207" height="30"/><text x="3482.5" y="358">URL管理器(Manager)</text></g>
<g id="n249" class="n"><rect x="3379" y="379" width="252" height="30"/><text x="3505" y="394">HTML下载器(Downloader)</text></g>
<g id="n250" class="n"><rect x="3379" y="414" width="213" height="30"/><text x="3485.5" y="429">HTML解析器(Fetcher)</text></g>
<g id="n251" class="n"><rect x="3379" y="449" width="187" height="30"/><text x="3472.5" y="464">数据存储器(Storer)</text></g>
<g id="n252" class="n"><rect x="3379" y="484" width="223" height="30"/><text x="3490.5" y="499">爬虫调度器(Scheduler)</text></g>
<g id="n253" class="n"><rect x="3379" y="520" width="187" height="30"/><text x="3472.5" y="535">潭州爬虫框架实战</text></g>
<g id="n254" class="n"><rect x="3481" y="572" width="357" height="30"/><text x="3659.5" y="587">抓取大众点评，存储数据到MongoDB</text></g>
<g id="n255" class="n"><rect x="3276" y="793" width="146" height="30"/><text x="3349" y="808">破解反爬技术</text></g>
<g id="n256" class="n"><rect x="3444" y="661" width="191" height="30"/><text x="3539.5" y="676">JS渲染与参数加密</text></g>
<g id="n257" class="n"><rect x="3657" y="607" width="226" height="30"/><text x="3770" y="622">Fiddler抓包工具的使用</text></g>
<g id="n258" class="n"><rect x="3657" y="643" width="268" height="30"/><text x="3791" y="658">有道词典的JS加密参数破解</text></g>
<g id="n259" class="n"><rect x="3657" y="678" width="268" height="30"/><text x="3791" y="693">今日头条的JS加密参数破解</text></g>
<g id="n260" class="n"><rect x="3657" y="713" width="228" height="30"/><text x="3771" y="728">落网单曲歌曲链接破解</text></g>
<g id="n261" class="n"><rect x="3444" y="767" width="125" height="30"/><text x="3506.5" y="782">模拟浏览器</text></g>
<g id="n262" class="n"><rect x="3591" y="750" width="216" height="30"/><text x="3699" y="765">Selenium（webdriver）</text></g>
<g id="n263" class="n"><rect x="3591" y="785" width="114" height="30"/><text x="3648" y="800">Phantomjs</text></g>
<g id="n264" class="n"><rect x="3444" y="820" width="170" height="30"/><text x="3529" y="835">PyV8引擎解析JS</text></g>
<g id="n265" class="n"><rect x="3444" y="926" width="125" height="30"/><text x="3506.5" y="941">验证码识别</text></g>
<g id="n266" class="n"><rect x="3591" y="856" width="167" height="30"/><text x="3674.5" y="871">图形验证码识别</text></g>
<g id="n267" class="n"><rect x="3591" y="891" width="167" height="30"/><text x="3674.5" y="906">极验验证码识别</text></g>
<g id="n268" class="n"><rect x="3591" y="926" width="167" height="30"/><text x="3674.5" y="941">点触验证码识别</text></g>
<g id="n269" class="n"><rect x="3591" y="962" width="207" height="30"/><text x="3694.5" y="977">微博宫格验证码识别</text></g>
<g id="n270" class="n"><rect x="3591" y="998" width="147" height="30"/><text x="3664.5" y="1013">打码平台对接</text></g>
<g id="n271" class="n"><rect x="3276" y="1122" width="124" height="30"/><text x="3338" y="1137">代理池实现</text></g>
<g id="n272" class="n"><rect x="3423" y="1033" width="167" height="30"/><text x="3506.5" y="1048">为什么需要代理</text></g>
<g id="n273" class="n"><rect x="3423" y="1104" width="183" height="30"/><text x="3514.5" y="1119">代理IP分类和设置</text></g>
<g id="n274" class="n"><rect x="3627" y="1069" width="85" height="30"/><text x="3669.5" y="1084">高匿名</text></g>
<g id="n275" class="n"><rect x="3627" y="1104" width="65" height="30"/><text x="3659.5" y="1119">匿名</text></g>
<g id="n276" class="n"><rect x="3627" y="1140" width="65" height="30"/><text x="3659.5" y="1155">透明</text></g>
<g id="n277" class="n"><rect x="3423" y="1210" width="284" height="30"/><text x="3565" y="1225">使用Flask+Redis实现IP代理池</text></g>
<g id="n278" class="n"><rect x="3728" y="1175" width="203" height="30"/><text x="3829.5" y="1190">定时验证IP是否有效</text></g>
<g id="n279" class="n"><rect x="3728" y="1210" width="208" height="30"/><text x="3832" y="1225">定时检测代理池数量</text></g>
<g id="n280" class="n"><rect x="3728" y="1246" width="216" height="30"/><text x="3836" y="1261">动态扩展抓取API接口</text></g>
<g id="n281" class="n"><rect x="3276" y="1317" width="247" height="30"/><text x="3399.5" y="1332">模拟登陆和Cookie池维护</text></g>
<g id="n282" class="n"><rect x="3544" y="1281" width="167" height="30"/><text x="3627.5" y="1296">为什么需要登录</text></g>
<g id="n283" class="n"><rect x="3733" y="1281" width="290" height="30"/><text x="3878" y="1296">京东，新浪微博模拟登录分析</text></g>
<g id="n284" class="n"><rect x="3544" y="1353" width="187" height="30"/><text x="3637.5" y="1368">Cookie池源码分析</text></g>
<g id="n285" class="n"><rect x="3751" y="1316" width="332" height="30"/><text x="3917" y="1331">使用redis存储的账号密码批量登录</text></g>
<g id="n286" class="n"><rect x="3751" y="1352" width="381" height="30"/><text x="3941.5" y="1367">获取登录后的Cookies，并存储在redis里</text></g>
<g id="n287" class="n"><rect x="3751" y="1387" width="284" height="30"/><text x="3893" y="1402">使用Redis的Cookies模拟登录</text></g>
<g id="n288" class="n"><rect x="3276" y="1459" width="137" height="30"/><text x="3344.5" y="1474">pyspider框架</text></g>
<g id="n289" class="n"><rect x="3436" y="1423" width="183" height="30"/><text x="3527.5" y="1438">PySpider框架介绍</text></g>
<g id="n290" class="n"><rect x="3436" y="1458" width="183" height="30"/><text x="3527.5" y="1473">PySpider基本使用</text></g>
<g id="n291" class="n"><rect x="3436" y="1494" width="183" height="30"/><text x="3527.5" y="1509">PySpider用法详解</text></g>
<g id="n292" class="n h"><rect x="4147" y="222" width="212" height="47"/><text x="4253" y="246">Python爬虫高级</text></g>
<g id="n293" class="n"><rect x="4260" y="370" width="121" height="30"/><text x="4320.5" y="385">APP的抓取</text></g>
<g id="n294" class="n"><rect x="4403" y="290" width="149" height="30"/><text x="4477.5" y="305">Charles的使用</text></g>
<g id="n295" class="n"><rect x="4487" y="342" width="497" height="30"/><text x="4735.5" y="357">使用Charles抓取王者荣耀所有英雄皮肤和英雄的信息</text></g>
<g id="n296" class="n"><rect x="4403" y="378" width="175" height="30"/><text x="4490.5" y="393">MitmProxy的使用</text></g>
<g id="n297" class="n"><rect x="4403" y="413" width="181" height="30"/><text x="4493.5" y="428">MitmDump的使用</text></g>
<g id="n298" class="n"><rect x="4403" y="449" width="163" height="30"/><text x="4484.5" y="464">Appinum的使用</text></g>
<g id="n299" class="n"><rect x="4493" y="501" width="487" height="30"/><text x="4736.5" y="516">使用Appinum+MitmProxy抓取摩拜单车车辆位置信息</text></g>
<g id="n300" class="n"><rect x="4260" y="714" width="124" height="30"/><text x="4322" y="729">Scrapy框架</text></g>
<g id="n301" class="n"><rect x="4406" y="537" width="165" height="30"/><text x="4488.5" y="552">Scrapy框架介绍</text></g>
<g id="n302" class="n"><rect x="4406" y="572" width="124" height="30"/><text x="4468" y="587">Scrapy入门</text></g>
<g id="n303" class="n"><rect x="4406" y="607" width="157" height="30"/><text x="4484.5" y="622">Selector的用法</text></g>
<g id="n304" class="n"><rect x="4406" y="642" width="141" height="30"/><text x="4476.5" y="657">Spider的用法</text></g>
<g id="n305" class="n"><rect x="4406" y="678" width="264" height="30"/><text x="4538" y="693">Downloader Midleware用法</text></g>
<g id="n306" class="n"><rect x="4406" y="713" width="233" height="30"/><text x="4522.5" y="728">Spider Middlerware用法</text></g>
<g id="n307" class="n"><rect x="4406" y="749" width="176" height="30"/><text x="4494" y="764">Item Pipeline用法</text></g>
<g id="n308" class="n"><rect x="4406" y="785" width="206" height="30"/><text x="4509" y="800">Scrapy对接Selenium</text></g>
<g id="n309" class="n"><rect x="4406" y="820" width="182" height="30"/><text x="4497" y="835">Scrapy对接Splash</text></g>
<g id="n310" class="n"><rect x="4406" y="856" width="165" height="30"/><text x="4488.5" y="871">Scrapy通用爬虫</text></g>
<g id="n311" class="n"><rect x="4406" y="891" width="186" height="30"/><text x="4499" y="906">Scrapy对接Docker</text></g>
<g id="n312" class="n"><rect x="4260" y="997" width="167" height="30"/><text x="4343.5" y="1012">分布式爬虫实战</text></g>
<g id="n313" class="n"><rect x="4449" y="926" width="166" height="30"/><text x="4532" y="941">分布式爬虫理念</text></g>
<g id="n314" class="n"><rect x="4449" y="962" width="191" height="30"/><text x="4544.5" y="977">RabbitMQ消息队列</text></g>
<g id="n315" class="n"><rect x="4449" y="997" width="219" height="30"/><text x="4558.5" y="1012">Scrapy-Redis源码解析</text></g>
<g id="n316" class="n"><rect x="4449" y="1032" width="225" height="30"/><text x="4561.5" y="1047">BloomFilter过滤器对接</text></g>
<g id="n317" class="n"><rect x="4449" y="1068" width="186" height="30"/><text x="4542" y="1083">Scrapy分布式实现</text></g>
<g id="n318" class="n"><rect x="4260" y="1174" width="167" height="30"/><text x="4343.5" y="1189">分布式爬虫部署</text></g>
<g id="n319" class="n"><rect x="4449" y="1103" width="197" height="30"/><text x="4547.5" y="1118">Scrapyd分布式部署</text></g>
<g id="n320" class="n"><rect x="4449" y="1139" width="205" height="30"/><text x="4551.5" y="1154">ScrapydClient的使用</text></g>
<g id="n321" class="n"><rect x="4449" y="1174" width="197" height="30"/><text x="4547.5" y="1189">Scrapyd对接Docker</text></g>
<g id="n322" class="n"><rect x="4449" y="1210" width="175" height="30"/><text x="4536.5" y="1225">Scrapyd批量部署</text></g>
<g id="n323" class="n"><rect x="4449" y="1245" width="187" height="30"/><text x="4542.5" y="1260">Gerapy分布式管理</text></g>
</g>
</svg>
